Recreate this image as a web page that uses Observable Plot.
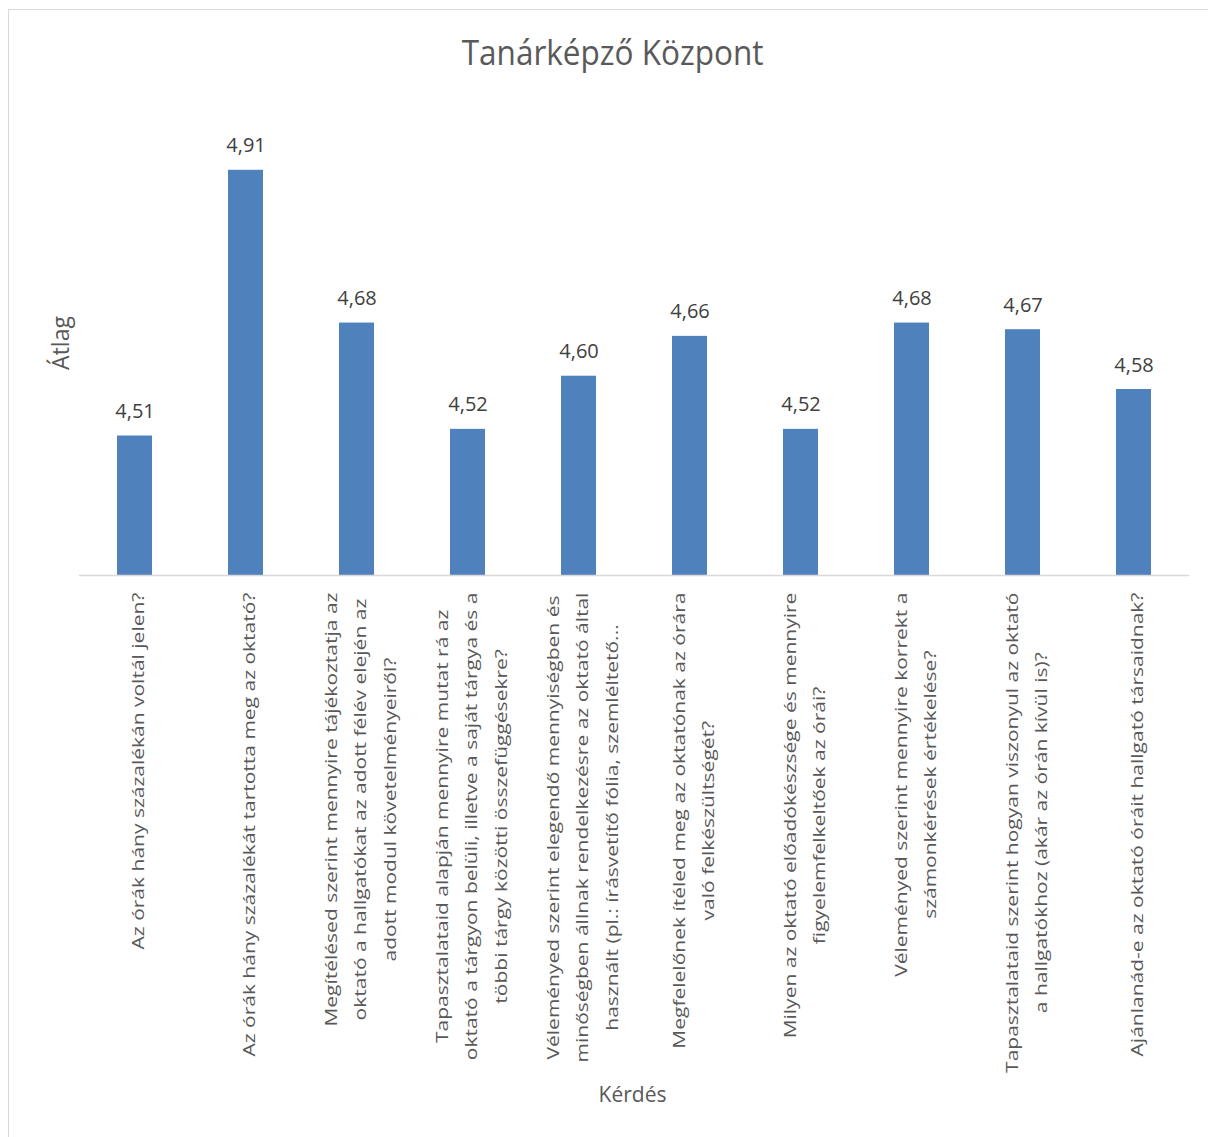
<!DOCTYPE html>
<html>
<head>
<meta charset="utf-8">
<script src="https://cdn.jsdelivr.net/npm/d3@7"></script>
<script src="https://cdn.jsdelivr.net/npm/@observablehq/plot@0.6"></script>
<style>
  html, body { margin: 0; padding: 0; background: #fff; overflow: hidden; }
  #wrap { position: relative; width: 1208px; height: 1137px; overflow: hidden; font-family: 'Open Sans', sans-serif; background: #fff; }
  #chart { position: absolute; left: 0; top: 0; }
  #frame { position: absolute; left: 8px; top: 9px; width: 1400px; height: 1400px; border: 1.5px solid #d9d9d9; box-sizing: border-box; pointer-events: none; }
  #title { position: absolute; left: 0; width: 1225px; top: 34px; text-align: center; font-size: 35px; line-height: 35px; color: #595959; white-space: nowrap; }
  #title span { display: inline-block; transform: scaleX(0.9); }
  #ylab { position: absolute; left: 60px; top: 343px; font-size: 23px; line-height: 23px; color: #595959; white-space: nowrap;
          transform: translate(-50%, -50%) rotate(-90deg); }
  #xlab { position: absolute; left: 0; width: 1265px; top: 1084px; text-align: center; font-size: 21px; line-height: 21px; color: #595959; white-space: nowrap; }
</style>
</head>
<body>
<div id="wrap">
  <div id="chart"></div>
  <div id="title"><span>Tanárképző Központ</span></div>
  <div id="ylab">Átlag</div>
  <div id="xlab">Kérdés</div>
  <div id="frame"></div>
</div>
<script>
// ---- data ----
const questions = [
  "Az órák hány százalékán voltál jelen?",
  "Az órák hány százalékát tartotta meg az oktató?",
  "Megítélésed szerint mennyire tájékoztatja az\noktató a hallgatókat az adott félév elején az\nadott modul követelményeiről?",
  "Tapasztalataid alapján mennyire mutat rá az\noktató a tárgyon belüli, illetve a saját tárgya és a\ntöbbi tárgy közötti összefüggésekre?",
  "Véleményed szerint elegendő mennyiségben és\nminőségben állnak rendelkezésre az oktató által\nhasznált (pl.: írásvetítő fólia, szemléltető...",
  "Megfelelőnek ítéled meg az oktatónak az órára\nvaló felkészültségét?",
  "Milyen az oktató előadókészsége és mennyire\nfigyelemfelkeltőek az órái?",
  "Véleményed szerint mennyire korrekt a\nszámonkérések értékelése?",
  "Tapasztalataid szerint hogyan viszonyul az oktató\na hallgatókhoz (akár az órán kívül is)?",
  "Ajánlanád-e az oktató óráit hallgató társaidnak?"
];
const averages = [4.51, 4.91, 4.68, 4.52, 4.60, 4.66, 4.52, 4.68, 4.67, 4.58];
const yDomain = [4.3, 5.0];

const rows = questions.map((q, i) => ({q, v: averages[i]}));
const fmt = v => d3.format(".2f")(v).replace(".", ",");

const tickFontSize = 21;
const ctx = document.createElement("canvas").getContext("2d");
ctx.font = `${tickFontSize}px 'Open Sans'`;
const longest = q => d3.max(q.split("\n"), line => ctx.measureText(line).width);

const tickMarks = rows.map(r => Plot.text([r], {
  x: "q",
  text: "q",
  frameAnchor: "bottom",
  rotate: -90,
  textAnchor: "middle",
  lineAnchor: "middle",
  lineHeight: 1.82,
  fontSize: tickFontSize,
  fontFamily: "Open Sans",
  fill: "#595959",
  dy: 17 + longest(r.q) / 2
}));

const chart = Plot.plot({
  width: 1208,
  height: 1137,
  marginLeft: 79,
  marginRight: 19,
  marginTop: 110,
  marginBottom: 562,
  style: {background: "transparent", fontFamily: "Open Sans"},
  x: {type: "band", domain: questions, paddingInner: 0.685, paddingOuter: 0.3425, axis: null},
  y: {domain: yDomain, axis: null},
  marks: [
    Plot.barY(rows, {x: "q", y1: yDomain[0], y2: "v", fill: "#4f81bd"}),
    Plot.ruleY([yDomain[0]], {stroke: "#d9d9d9", strokeWidth: 1.5}),
    Plot.text(rows, {x: "q", y: "v", text: d => fmt(d.v), lineAnchor: "bottom", dy: -18,
      fontSize: 20, fontFamily: "Open Sans", fill: "#404040"}),
    ...tickMarks
  ]
});

// slightly condense the rotated category labels across their thickness
chart.querySelectorAll("text").forEach(t => {
  const tr = t.getAttribute("transform") || "";
  if (tr.includes("rotate")) t.setAttribute("transform", tr + " scale(1,0.77)");
});

document.getElementById("chart").appendChild(chart);
</script>
</body>
</html>
